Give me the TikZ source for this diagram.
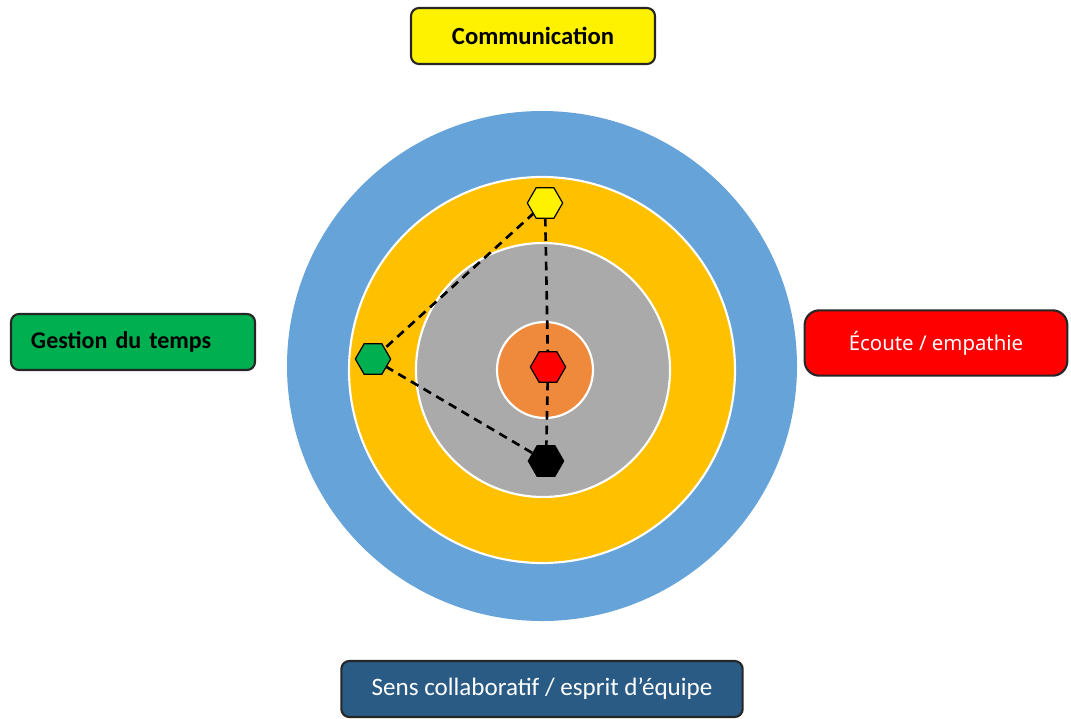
\documentclass[tikz,border=0pt]{standalone}
\usepackage{fontspec}
\setmainfont{Carlito}
\newfontfamily\robo{Noto Sans}
\usetikzlibrary{shapes.geometric}
\definecolor{ringblue}{HTML}{66A3D8}
\definecolor{ringyellow}{HTML}{FFC000}
\definecolor{ringgray}{HTML}{AAAAAA}
\definecolor{ringorange}{HTML}{EF8A3C}
\definecolor{boxgreen}{HTML}{00B050}
\definecolor{boxblue}{HTML}{2A5B85}
\tikzset{
  ring/.style={draw=white, line width=1.6pt},
  label box/.style={draw=black!85, line width=1.6pt, rounded corners=6pt, minimum height=42pt, inner sep=0pt},
  hex/.style={regular polygon, regular polygon sides=6, draw=black, line width=0.9pt, minimum size=26.5pt, inner sep=0pt},
  link/.style={draw=black, line width=2pt, dash pattern=on 6.5pt off 4.5pt}
}
\begin{document}
\begin{tikzpicture}[x=0.75pt,y=-0.75pt]
\useasboundingbox (0,0) rectangle (1071,718);
% rings
\fill[ringblue] (542,366) circle (255);
\draw[ring, fill=ringyellow] (542,370) circle (193);
\draw[ring, fill=ringgray] (543,370) circle (127);
\draw[ring, fill=ringorange] (545,370) circle (48);
% hexagon positions
\coordinate (cy) at (545,203);
\coordinate (cg) at (373,359);
\coordinate (cr) at (548,367);
\coordinate (cb) at (546,461);
\draw[link] (cy) -- (cr);
\draw[link] (cr) -- (cb);
\draw[link] (cy) -- (cg);
\draw[link] (cg) -- (cb);
\node[hex, fill=yellow] (hy) at (cy) {};
\node[hex, fill=boxgreen] (hg) at (cg) {};
\node[hex, fill=red] (hr) at (cr) {};
\node[hex, fill=black] (hb) at (cb) {};
% label boxes
\node[label box, fill=yellow, minimum width=183pt, font=\fontsize{18.5}{22}\selectfont\bfseries] (com) at (533,36) {Communication};
\node[label box, fill=boxgreen, minimum width=183pt, text width=153pt, align=left, inner xsep=15pt, font=\fontsize{18}{22}\selectfont\bfseries] (ges) at (133,342) {Gestion du temps};
\node[label box, fill=red, rounded corners=11pt, minimum width=197pt, minimum height=49pt, text=white, font=\robo\fontsize{15.3}{18}\selectfont] (eco) at (936,343) {Écoute / empathie};
\node[label box, fill=boxblue, minimum width=301pt, text=white, font=\fontsize{18.8}{22}\selectfont] (sens) at (542,689) {Sens collaboratif / esprit d’équipe};
\end{tikzpicture}
\end{document}
